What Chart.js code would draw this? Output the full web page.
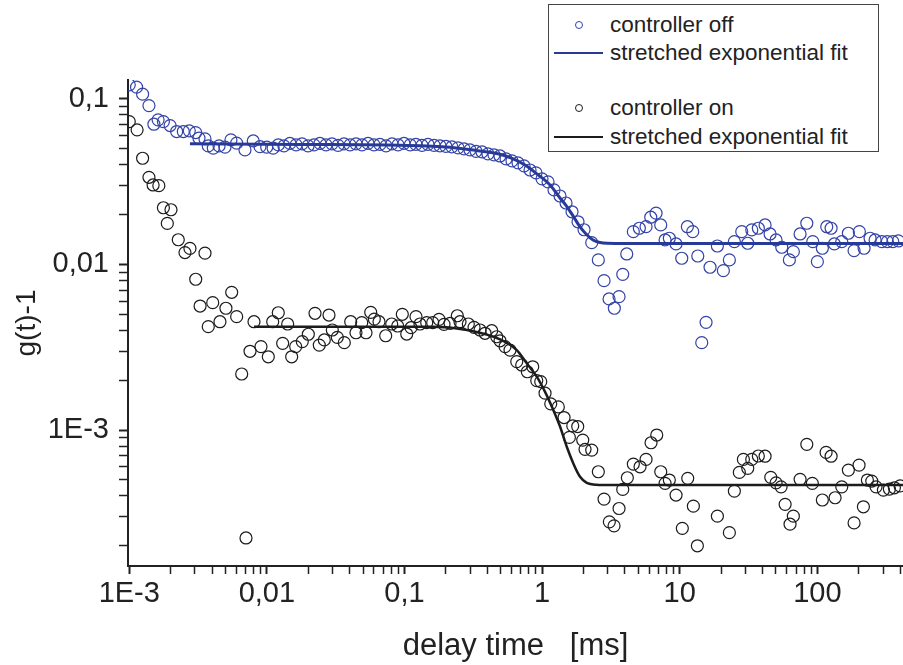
<!DOCTYPE html>
<html>
<head>
<meta charset="utf-8">
<script src="https://cdn.jsdelivr.net/npm/chart.js@4/dist/chart.umd.min.js"></script>
<style>
  body { margin: 0; background: #fff; }
  #wrap { position: relative; width: 903px; height: 665px; }
  #legend {
    position: absolute; left: 548px; top: 4px; width: 331px; height: 148px;
    border: 1px solid #444; box-sizing: border-box; background: #fff;
    font-family: "Liberation Sans", Arial, Helvetica, sans-serif; font-size: 22.5px; color: #222;
  }
  .lg-row { position: absolute; left: 0; width: 100%; height: 28px; line-height: 28px; }
  .lg-text { position: absolute; left: 61px; top: 0; white-space: nowrap; }
  .lg-dot { position: absolute; left: 26px; top: 10px; width: 8px; height: 8px; border-radius: 50%; box-sizing: border-box; border: 1.2px solid; }
  .lg-line { position: absolute; left: 5px; top: 13px; width: 49px; height: 0; border-top: 2.5px solid; }
</style>
</head>
<body>
<div id="wrap">
  <canvas id="chart" width="903" height="665"></canvas>
  <div id="legend"></div>
</div>
<script>
// delay time [ms], g(t)-1 — controller off (blue)
const controllerOff = [
  [0.001,0.1215],[0.00113,0.1177],[0.00125,0.1068],[0.00139,0.0911],[0.00151,0.0703],[0.00162,0.0747],
  [0.00177,0.0729],[0.00198,0.0690],[0.00221,0.0635],[0.00247,0.0635],[0.00273,0.0641],[0.00304,0.0626],
  [0.00321,0.0579],[0.00355,0.0573],[0.00375,0.0520],[0.00408,0.0504],[0.00449,0.0520],[0.00496,0.0511],
  [0.00548,0.0565],[0.00603,0.0540],[0.00693,0.0492],[0.00796,0.0557],[0.00891,0.0515],[0.00997,0.0511],
  [0.0111,0.0504],[0.0121,0.0527],
  [0.0133,0.0520],[0.0147,0.0538],[0.0163,0.0527],[0.0180,0.0535],[0.0199,0.0520],[0.0220,0.0527],
  [0.0243,0.0538],[0.0269,0.0527],[0.0297,0.0535],[0.0329,0.0524],[0.0363,0.0535],[0.0402,0.0527],
  [0.0444,0.0535],[0.0491,0.0527],[0.0543,0.0538],[0.0600,0.0527],[0.0663,0.0531],[0.0734,0.0520],
  [0.0811,0.0535],[0.0897,0.0527],[0.0991,0.0538],[0.110,0.0527],[0.121,0.0531],[0.134,0.0524],
  [0.148,0.0531],[0.164,0.0524],[0.181,0.0520],[0.200,0.0516],[0.221,0.0513],[0.245,0.0506],
  [0.271,0.0499],[0.299,0.0492],[0.331,0.0482],[0.366,0.0478],[0.404,0.0465],[0.447,0.0459],
  [0.494,0.0452],[0.547,0.0434],[0.604,0.0422],[0.668,0.0411],[0.739,0.0394],[0.817,0.0372],
  [0.903,0.0357],[0.998,0.0329],[1.104,0.0315],[1.220,0.0282],[1.349,0.0259],[1.492,0.0235],
  [1.649,0.0208],[1.823,0.0181],[2.016,0.0162],
  [2.293,0.01354],[2.561,0.01065],[2.818,0.00798],[3.064,0.00619],[3.348,0.00544],[3.622,0.00639],
  [3.853,0.00872],[4.12,0.01157],[4.60,0.01578],[5.087,0.01654],[5.69,0.01692],[6.155,0.01929],
  [6.727,0.0204],[7.277,0.01732],[7.822,0.01406],[8.40,0.0144],[9.40,0.0133],[10.34,0.0109],
  [11.36,0.0169],[12.43,0.01578],[13.52,0.01125],[14.45,0.00337],[15.53,0.00447],[16.60,0.00962],
  [18.77,0.01293],[20.75,0.00917],[22.94,0.01065],[24.94,0.01373],[28.22,0.01578],[31.2,0.01343],
  [33.37,0.01616],[37.25,0.01654],[41.69,0.01732],[45.32,0.01528],[50.1,0.01406],[55.1,0.0127],
  [62.6,0.01065],[66.9,0.01195],[74.9,0.01528],[83.8,0.01773],[92.6,0.01373],[100,0.0104],
  [108.7,0.01253],[117.0,0.0169],[125.8,0.01654],[132.9,0.0133],[150.4,0.01373],[168.0,0.01543],
  [184.8,0.01212],[201.9,0.01578],[218.5,0.01253],[241.5,0.0144],[262.7,0.01406],[293.8,0.01373],
  [322.7,0.01373],[353.2,0.01373],[387.8,0.01387]
];

// controller on (black)
const controllerOn = [
  [0.001,0.0729],[0.00114,0.065],[0.00125,0.0438],[0.00139,0.0336],[0.00149,0.0302],[0.00164,0.0299],
  [0.00177,0.0220],[0.00189,0.0177],[0.00201,0.0214],[0.00227,0.0141],[0.00254,0.0118],[0.00276,0.0125],
  [0.00304,0.00814],[0.00327,0.00561],[0.00355,0.0117],[0.00375,0.00421],[0.00404,0.00588],[0.00456,0.00451],
  [0.00504,0.00544],[0.00555,0.00679],[0.00603,0.00484],[0.00656,0.00218],[0.00705,0.000223],[0.00754,0.00299],
  [0.00806,0.00451],[0.00906,0.00319],[0.01024,0.00277],[0.01102,0.00451],[0.0121,0.00511],[0.01302,0.00334],
  [0.01416,0.00437],[0.01514,0.00277],[0.01619,0.00319],[0.01808,0.00342],[0.0200,0.00379],[0.02237,0.00507],
  [0.02403,0.00326],[0.02613,0.0035],[0.02827,0.00495],[0.02988,0.00402],[0.03248,0.00363],[0.03652,0.00337],
  [0.04064,0.00451],[0.0444,0.00387],[0.04887,0.00445],[0.05252,0.00387],[0.05681,0.00514],[0.06033,0.00468],
  [0.06526,0.00451],[0.07301,0.00371],[0.08072,0.00437],[0.08925,0.00425],[0.09638,0.0050],[0.1038,0.0038],
  [0.1115,0.00415],[0.1212,0.00484],[0.1296,0.00437],[0.145,0.00445],[0.1603,0.00445],[0.1781,0.00466],
  [0.1937,0.00435],[0.2142,0.00441],[0.2419,0.0049],[0.2531,0.00451],[0.2909,0.00437],[0.32,0.00417],
  [0.3538,0.00402],[0.3846,0.00384],[0.4302,0.00398],[0.4677,0.00366],[0.4943,0.00346],[0.5375,0.00319],
  [0.5845,0.00304],[0.654,0.00259],[0.7108,0.00247],[0.7806,0.00225],[0.8545,0.00241],[0.914,0.00199],
  [0.977,0.00196],[1.05,0.00167],[1.155,0.00144],[1.311,0.00138],[1.443,0.00119],[1.577,0.000903],
  [1.669,0.00106],[1.814,0.00105],[1.973,0.00087],[2.05,0.000765],[2.293,0.000757],[2.561,0.00056],
  [2.818,0.000383],[3.079,0.000279],[3.331,0.000264],[3.622,0.000336],[3.853,0.000438],[4.161,0.000515],
  [4.60,0.000623],[5.147,0.0006],[5.69,0.000665],[6.186,0.000838],[6.805,0.000933],[7.277,0.00056],
  [7.822,0.000476],[8.40,0.000499],[9.40,0.000405],[10.44,0.000255],[11.43,0.000511],[12.56,0.000347],
  [13.43,0.0002],[18.77,0.000302],[22.94,0.00024],[24.94,0.000428],[27.1,0.000555],[29.0,0.000665],
  [31.2,0.000587],[33.37,0.000665],[37.25,0.000697],[41.69,0.000695],[45.85,0.000518],[50.1,0.00048],
  [54.5,0.000454],[58.3,0.000356],[63.3,0.00027],[66.9,0.000302],[74.9,0.000504],[83.8,0.00082],
  [91.9,0.000476],[108.7,0.000378],[115.7,0.000733],[125.8,0.000695],[134.5,0.00039],[150.4,0.000454],
  [168.0,0.000573],[184.8,0.000275],[200.9,0.000614],[216,0.000344],[230.9,0.000499],[248.5,0.000492],
  [267,0.000454],[301.8,0.000434],[333.7,0.00044],[362.8,0.000448],[399,0.00046]
];

// stretched exponential fits
const fitOff = [
  [0.00276,0.0535],[0.0174,0.0531],[0.0928,0.0525],[0.2142,0.0511],[0.3253,0.0489],[0.4943,0.0463],
  [0.6043,0.0437],[0.751,0.0399],[0.918,0.0352],[1.141,0.0302],[1.349,0.0252],[1.517,0.0223],
  [1.677,0.01965],[1.886,0.01685],[2.084,0.01528],[2.344,0.01406],[2.636,0.01358],[2.963,0.01343],
  [3.64,0.0134],[10,0.0134],[100,0.0134],[420,0.0134]
];
const fitOn = [
  [0.00806,0.00421],[0.05,0.00421],[0.161,0.00421],[0.2846,0.00402],[0.4943,0.00353],[0.654,0.00304],
  [0.773,0.00253],[0.914,0.0021],[1.05,0.0017],[1.206,0.00132],[1.349,0.00105],[1.51,0.000793],
  [1.685,0.000629],[1.886,0.000522],[2.109,0.00048],[2.494,0.000467],[3.0,0.000465],[10,0.000465],
  [100,0.000465],[420,0.000465]
];

const seriesLabels = ['controller off', 'stretched exponential fit', 'controller on', 'stretched exponential fit'];

const xTickValues = [0.001, 0.01, 0.1, 1, 10, 100];
const xTickLabels = ['1E-3', '0,01', '0,1', '1', '10', '100'];
const yTickValues = [0.001, 0.01, 0.1];
const yTickLabels = ['1E-3', '0,01', '0,1'];

const X_MIN = 0.000979, X_MAX = 419;
const Y_MIN = 0.000151, Y_MAX = 0.130;

const BLUE_PT = '#3343a8';
const BLUE_LN = '#283a98';
const BLACK = '#1c1c1c';
const FONT = '"Liberation Sans", Arial, Helvetica, sans-serif';

function withMinors(min, max) {
  const out = [];
  for (let e = -5; e <= 3; e++) {
    for (let k = 1; k <= 9; k++) {
      const v = k * Math.pow(10, e);
      if (v >= min * 0.9999 && v <= max) out.push(+v.toPrecision(6));
    }
  }
  return out;
}
function labelIndex(list, v) {
  return list.findIndex(t => Math.abs(Math.log10(t) - Math.log10(v)) < 1e-6);
}
const toXY = arr => arr.map(p => ({ x: p[0], y: p[1] }));

const ctx = document.getElementById('chart').getContext('2d');
const chart = new Chart(ctx, {
  type: 'scatter',
  data: {
    datasets: [
      {
        label: seriesLabels[0], data: toXY(controllerOff),
        borderColor: BLUE_PT, backgroundColor: 'rgba(0,0,0,0)',
        pointRadius: 6, pointBorderWidth: 1.2, showLine: false, order: 3
      },
      {
        label: seriesLabels[1], data: toXY(fitOff),
        borderColor: BLUE_LN, backgroundColor: BLUE_LN, borderWidth: 3,
        pointRadius: 0, showLine: true, cubicInterpolationMode: 'monotone', order: 1
      },
      {
        label: seriesLabels[2], data: toXY(controllerOn),
        borderColor: BLACK, backgroundColor: 'rgba(0,0,0,0)',
        pointRadius: 6, pointBorderWidth: 1.2, showLine: false, order: 4
      },
      {
        label: seriesLabels[3], data: toXY(fitOn),
        borderColor: BLACK, backgroundColor: BLACK, borderWidth: 2.5,
        pointRadius: 0, showLine: true, cubicInterpolationMode: 'monotone', order: 2
      }
    ]
  },
  options: {
    responsive: false,
    animation: false,
    devicePixelRatio: 1,
    layout: { autoPadding: false, padding: { top: 80, left: 0, right: 0, bottom: 0 } },
    plugins: { legend: { display: false }, tooltip: { enabled: false } },
    scales: {
      x: {
        type: 'logarithmic', position: 'bottom', min: X_MIN, max: X_MAX, bounds: 'data',
        afterFit(s) { s.height = 99; s.paddingRight = 0; s.paddingLeft = 0; },
        afterBuildTicks(s) { s.ticks = withMinors(X_MIN, X_MAX).map(v => ({ value: v })); },
        ticks: {
          autoSkip: false, maxRotation: 0, minRotation: 0, padding: 3, color: '#222',
          font: { family: FONT, size: 29 },
          callback(v) { const i = labelIndex(xTickValues, v); return i < 0 ? '' : xTickLabels[i]; }
        },
        grid: {
          drawOnChartArea: false, drawTicks: true, tickLength: 8, tickColor: '#222',
          tickWidth: c => (c.tick && labelIndex(xTickValues, c.tick.value) >= 0) ? 2 : 1.5
        },
        border: { display: true, color: '#222', width: 2 },
        title: {
          display: true, text: 'delay time   [ms]', color: '#222',
          font: { family: FONT, size: 31 }, padding: { top: 0, bottom: 0 }
        }
      },
      y: {
        type: 'logarithmic', position: 'left', min: Y_MIN, max: Y_MAX, bounds: 'data',
        afterFit(s) { s.width = 128; s.paddingTop = 0; s.paddingBottom = 0; },
        afterBuildTicks(s) { s.ticks = withMinors(Y_MIN, Y_MAX).map(v => ({ value: v })); },
        ticks: {
          autoSkip: false, padding: 10, color: '#222',
          font: { family: FONT, size: 29 },
          callback(v) { const i = labelIndex(yTickValues, v); return i < 0 ? '' : yTickLabels[i]; }
        },
        grid: {
          drawOnChartArea: false, drawTicks: true, tickLength: 9, tickColor: '#222',
          tickWidth: c => (c.tick && labelIndex(yTickValues, c.tick.value) >= 0) ? 2 : 1.5
        },
        border: { display: true, color: '#222', width: 2 },
        title: {
          display: true, text: 'g(t)-1', color: '#222',
          font: { family: FONT, size: 28 }, padding: { top: 10, bottom: 0 }
        }
      }
    }
  }
});

// legend box, built from the datasets
const legendTops = [6, 34, 89, 118];
const legendEl = document.getElementById('legend');
chart.data.datasets.forEach((ds, i) => {
  const row = document.createElement('div');
  row.className = 'lg-row';
  row.style.top = legendTops[i] + 'px';
  const mark = document.createElement('span');
  if (ds.showLine) {
    mark.className = 'lg-line';
    mark.style.borderTopColor = ds.borderColor;
  } else {
    mark.className = 'lg-dot';
    mark.style.borderColor = ds.borderColor;
  }
  const txt = document.createElement('span');
  txt.className = 'lg-text';
  txt.textContent = ds.label;
  row.appendChild(mark);
  row.appendChild(txt);
  legendEl.appendChild(row);
});
</script>
</body>
</html>
